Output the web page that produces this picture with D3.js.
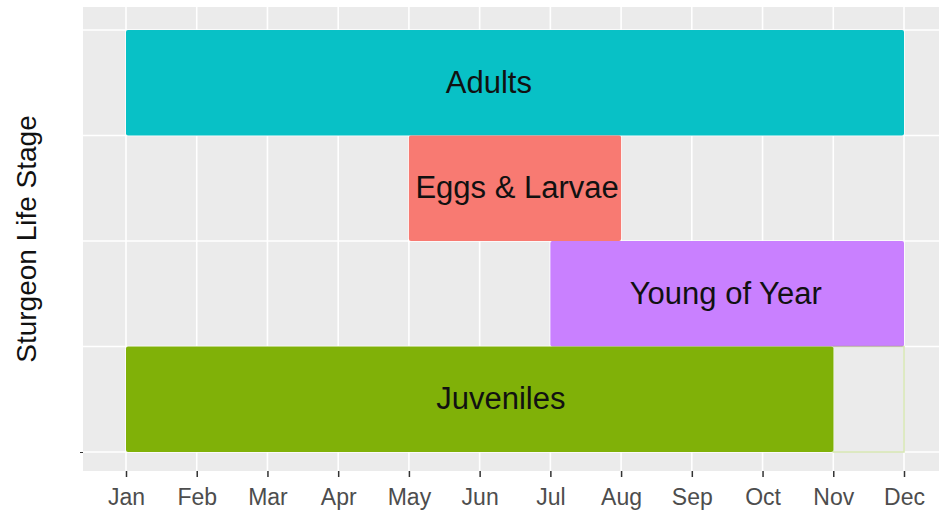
<!DOCTYPE html>
<meta charset="utf-8">
<html>
<head>
  <title>Sturgeon Life Stages</title>
  <style>
    body { margin: 0; background: #fff; }
    svg { display: block; font-family: 'Liberation Sans', Arial, sans-serif; }
  </style>
  <script src="https://d3js.org/d3.v7.min.js"></script>
</head>
<body>
  <svg width="939" height="510"></svg>
  <script>
    // life stages, top to bottom on the chart
    var stages = ["Adults", "Eggs & Larvae", "Young of Year", "Juveniles"];
    // month numbers (1 = Jan) where each stage starts / ends
    var startMonth = [1, 5, 7, 1];
    var endMonth = [12, 8, 12, 11];
    // where the label sits, in months
    var labelMonth = [6.13, 6.53, 9.48, 6.3];
    // faint outlined tail of the juveniles row
    var juvenileTail = [11, 12];
    var colors = ["#00BFC4", "#F8766D", "#C77CFF", "#7CAE00"];

    var months = ["Jan", "Feb", "Mar", "Apr", "May", "Jun",
                  "Jul", "Aug", "Sep", "Oct", "Nov", "Dec"];
    var yBreaks = [0, 1, 2, 3, 4];

    var svg = d3.select("svg");

    // scales: months on x, stacked rows on y (row 0 at the bottom)
    var x = d3.scaleLinear().domain([1, 12]).range([126, 904]);
    var y = d3.scaleLinear().domain([0, 4]).range([452, 30]);

    var panel = {left: 83, right: 939, top: 7, bottom: 471};

    // grey panel background
    svg.append("rect")
      .attr("x", panel.left)
      .attr("y", panel.top)
      .attr("width", panel.right - panel.left)
      .attr("height", panel.bottom - panel.top)
      .attr("fill", "#EBEBEB");

    // grid lines
    var grid = svg.append("g");
    grid.selectAll(".vgrid")
      .data(d3.range(1, 13))
      .enter().append("line")
        .attr("x1", function(d) { return x(d); })
        .attr("x2", function(d) { return x(d); })
        .attr("y1", panel.top)
        .attr("y2", panel.bottom)
        .attr("stroke", "#fff")
        .attr("stroke-width", 1.6);
    grid.selectAll(".hgrid")
      .data(yBreaks)
      .enter().append("line")
        .attr("x1", panel.left)
        .attr("x2", panel.right)
        .attr("y1", function(d) { return y(d); })
        .attr("y2", function(d) { return y(d); })
        .attr("stroke", "#fff")
        .attr("stroke-width", 1.6);

    // row index from the bottom
    function row(i) { return stages.length - 1 - i; }

    // the bars
    svg.append("g").selectAll("rect")
      .data(stages)
      .enter().append("rect")
        .attr("x", function(d, i) { return x(startMonth[i]); })
        .attr("y", function(d, i) { return y(row(i) + 1); })
        .attr("width", function(d, i) { return x(endMonth[i]) - x(startMonth[i]); })
        .attr("height", function(d, i) { return y(row(i)) - y(row(i) + 1); })
        .attr("rx", 2)
        .attr("fill", function(d, i) { return colors[i]; })
        .attr("fill-opacity", 0.97);

    // outlined tail for juveniles
    var ji = stages.indexOf("Juveniles");
    svg.append("rect")
      .attr("x", x(juvenileTail[0]))
      .attr("y", y(row(ji) + 1))
      .attr("width", x(juvenileTail[1]) - x(juvenileTail[0]))
      .attr("height", y(row(ji)) - y(row(ji) + 1))
      .attr("fill", "none")
      .attr("stroke", colors[ji])
      .attr("stroke-opacity", 0.3)
      .attr("stroke-width", 1.5);

    // labels on the bars
    svg.append("g").selectAll("text")
      .data(stages)
      .enter().append("text")
        .attr("x", function(d, i) { return x(labelMonth[i]); })
        .attr("y", function(d, i) { return y(row(i) + 0.5); })
        .attr("dy", "0.33em")
        .attr("text-anchor", "middle")
        .attr("font-size", "31px")
        .attr("fill", "#111")
        .text(function(d) { return d; });

    // x axis
    var xAxis = svg.append("g")
      .attr("transform", "translate(0," + panel.bottom + ")")
      .call(d3.axisBottom(x)
        .tickValues(d3.range(1, 13))
        .tickFormat(function(d) { return months[d - 1]; })
        .tickSize(6)
        .tickPadding(12));
    xAxis.select(".domain").remove();
    xAxis.selectAll(".tick line").attr("stroke", "#333").attr("stroke-width", 1.5);
    xAxis.selectAll(".tick text")
      .attr("fill", "#4D4D4D")
      .attr("font-size", "23px")
      .attr("font-family", "'Liberation Sans', Arial, sans-serif");

    // y axis: a single unlabeled tick at the bottom row edge
    var yAxis = svg.append("g")
      .attr("transform", "translate(" + panel.left + ",0)")
      .call(d3.axisLeft(y).tickValues([0]).tickFormat("").tickSize(3));
    yAxis.select(".domain").remove();
    yAxis.selectAll(".tick line").attr("stroke", "#333").attr("stroke-width", 1);

    // y axis title
    svg.append("text")
      .attr("transform", "translate(36," + (panel.top + panel.bottom) / 2 + ") rotate(-90)")
      .attr("text-anchor", "middle")
      .attr("font-size", "28px")
      .attr("fill", "#111")
      .text("Sturgeon Life Stage");
  </script>
</body>
</html>
